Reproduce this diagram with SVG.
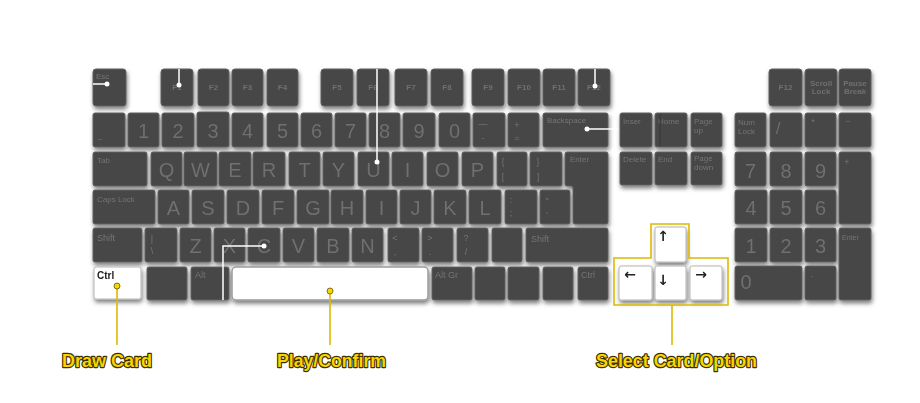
<svg xmlns="http://www.w3.org/2000/svg" width="920" height="403" viewBox="0 0 920 403">
<defs>
<filter id="sh" x="-5%" y="-10%" width="110%" height="130%">
<feDropShadow dx="1" dy="3" stdDeviation="2.2" flood-color="#000" flood-opacity="0.5"/>
</filter>
</defs>
<style>
.k{fill:#464646;stroke:#606060;stroke-width:1}
.w{fill:#ffffff;stroke:#b5b5b5;stroke-width:1}
.L{font-family:"Liberation Sans",Arial,sans-serif;font-size:20px;fill:#6f6f6f;text-anchor:middle}
.s{font-family:"Liberation Sans",Arial,sans-serif;font-size:8px;fill:#767676}
.sc{font-family:"Liberation Sans",Arial,sans-serif;font-size:9px;fill:#767676;text-anchor:middle}
.f{font-family:"Liberation Sans",Arial,sans-serif;font-size:8px;font-weight:bold;fill:#707070;text-anchor:middle}
.ar{font-family:"DejaVu Sans",sans-serif;font-size:14px;font-weight:bold;fill:#222;text-anchor:middle}
.lab{font-family:"Liberation Sans",Arial,sans-serif;font-size:19px;font-weight:bold;fill:#f7d500;stroke:#3b2f00;stroke-width:2.4;paint-order:stroke;stroke-linejoin:round}
.wl{stroke:#ffffff;stroke-width:1.5;fill:none}
.yl{stroke:#dcb900;stroke-width:1.6;fill:none}
</style>
<rect width="920" height="403" fill="#ffffff"/>
<g id="keyboard" filter="url(#sh)">
<!-- function row -->
<g id="k-esc"><rect class="k" x="93" y="69" width="33" height="37" rx="3"/><text class="s" x="96" y="79">Esc</text></g>
<g id="k-f1"><rect class="k" x="161" y="69" width="32" height="37" rx="3"/><text class="f" x="177" y="90">F1</text></g>
<g id="k-f2"><rect class="k" x="198" y="69" width="31" height="37" rx="3"/><text class="f" x="213.5" y="90">F2</text></g>
<g id="k-f3"><rect class="k" x="232" y="69" width="31" height="37" rx="3"/><text class="f" x="247.5" y="90">F3</text></g>
<g id="k-f4"><rect class="k" x="267" y="69" width="31" height="37" rx="3"/><text class="f" x="282.5" y="90">F4</text></g>
<g id="k-f5"><rect class="k" x="321" y="69" width="32" height="37" rx="3"/><text class="f" x="337" y="90">F5</text></g>
<g id="k-f6"><rect class="k" x="357" y="69" width="32" height="37" rx="3"/><text class="f" x="373" y="90">F6</text></g>
<g id="k-f7"><rect class="k" x="395" y="69" width="32" height="37" rx="3"/><text class="f" x="411" y="90">F7</text></g>
<g id="k-f8"><rect class="k" x="431" y="69" width="32" height="37" rx="3"/><text class="f" x="447" y="90">F8</text></g>
<g id="k-f9"><rect class="k" x="472" y="69" width="32" height="37" rx="3"/><text class="f" x="488" y="90">F9</text></g>
<g id="k-f10"><rect class="k" x="508" y="69" width="32" height="37" rx="3"/><text class="f" x="524" y="90">F10</text></g>
<g id="k-f11"><rect class="k" x="543" y="69" width="32" height="37" rx="3"/><text class="f" x="559" y="90">F11</text></g>
<g id="k-f12a"><rect class="k" x="578" y="69" width="32" height="37" rx="3"/><text class="f" x="594" y="90">F12</text></g>
<g id="k-f12b"><rect class="k" x="769" y="69" width="33" height="37" rx="3"/><text class="f" x="785.5" y="90">F12</text></g>
<g id="k-scroll"><rect class="k" x="805" y="69" width="32" height="37" rx="3"/><text class="f" x="821" y="86">Scroll</text><text class="f" x="821" y="94">Lock</text></g>
<g id="k-pause"><rect class="k" x="839" y="69" width="32" height="37" rx="3"/><text class="f" x="855" y="86">Pause</text><text class="f" x="855" y="94">Break</text></g>
<!-- number row -->
<g id="k-tilde"><rect class="k" x="93" y="113" width="32" height="34" rx="2"/><text class="s" x="98" y="142">~</text></g>
<g id="k-1"><rect class="k" x="128" y="113" width="31" height="34" rx="2"/><text class="L" x="143.5" y="138">1</text></g>
<g id="k-2"><rect class="k" x="162" y="113" width="32" height="34" rx="2"/><text class="L" x="178" y="138">2</text></g>
<g id="k-3"><rect class="k" x="197" y="112" width="32" height="35" rx="2"/><text class="L" x="213" y="138">3</text></g>
<g id="k-4"><rect class="k" x="232" y="113" width="31" height="34" rx="2"/><text class="L" x="247.5" y="138">4</text></g>
<g id="k-5"><rect class="k" x="267" y="113" width="31" height="34" rx="2"/><text class="L" x="282.5" y="138">5</text></g>
<g id="k-6"><rect class="k" x="301" y="113" width="31" height="34" rx="2"/><text class="L" x="316.5" y="138">6</text></g>
<g id="k-7"><rect class="k" x="335" y="113" width="31" height="34" rx="2"/><text class="L" x="350.5" y="138">7</text></g>
<g id="k-8"><rect class="k" x="369" y="113" width="31" height="34" rx="2"/><text class="L" x="384.5" y="138">8</text></g>
<g id="k-9"><rect class="k" x="403" y="113" width="32" height="34" rx="2"/><text class="L" x="419" y="138">9</text></g>
<g id="k-0"><rect class="k" x="439" y="113" width="31" height="34" rx="2"/><text class="L" x="454.5" y="138">0</text></g>
<g id="k-minus"><rect class="k" x="473" y="113" width="32" height="34" rx="2"/><text class="sc" x="483" y="127">—</text><text class="sc" x="483" y="141">-</text></g>
<g id="k-plus"><rect class="k" x="508" y="113" width="31" height="34" rx="2"/><text class="sc" x="517" y="128">+</text><text class="sc" x="517" y="141">=</text></g>
<g id="k-back"><rect class="k" x="543" y="113" width="65" height="34" rx="2"/><text class="s" x="547" y="123">Backspace</text></g>
<g id="k-ins"><rect class="k" x="620" y="113" width="32" height="34" rx="2"/><text class="s" x="623" y="124">Inser</text></g>
<g id="k-home"><rect class="k" x="655" y="113" width="32" height="34" rx="2"/><text class="s" x="658" y="124">Home</text></g>
<g id="k-pgup"><rect class="k" x="691" y="113" width="31" height="34" rx="2"/><text class="s" x="694" y="124">Page</text><text class="s" x="694" y="133">up</text></g>
<g id="k-num"><rect class="k" x="735" y="113" width="31" height="34" rx="2"/><text class="s" x="738" y="125">Num</text><text class="s" x="738" y="134">Lock</text></g>
<g id="k-div"><rect class="k" x="770" y="113" width="32" height="34" rx="2"/><text class="L" x="778" y="134" style="font-size:17px">/</text></g>
<g id="k-mul"><rect class="k" x="805" y="113" width="31" height="34" rx="2"/><text class="sc" x="813" y="125">*</text></g>
<g id="k-sub"><rect class="k" x="839" y="113" width="32" height="34" rx="2"/><text class="sc" x="848" y="124">−</text></g>
<!-- qwerty row -->
<g id="k-tab"><rect class="k" x="93" y="152" width="54" height="34" rx="2"/><text class="s" x="97" y="163">Tab</text></g>
<g id="k-q"><rect class="k" x="151" y="152" width="31" height="34" rx="2"/><text class="L" x="166.5" y="177">Q</text></g>
<g id="k-w"><rect class="k" x="184" y="152" width="33" height="34" rx="2"/><text class="L" x="200.5" y="177">W</text></g>
<g id="k-e"><rect class="k" x="219" y="152" width="32" height="34" rx="2"/><text class="L" x="235" y="177">E</text></g>
<g id="k-r"><rect class="k" x="253" y="152" width="32" height="34" rx="2"/><text class="L" x="269" y="177">R</text></g>
<g id="k-t"><rect class="k" x="289" y="152" width="31" height="34" rx="2"/><text class="L" x="304.5" y="177">T</text></g>
<g id="k-y"><rect class="k" x="323" y="152" width="31" height="34" rx="2"/><text class="L" x="338.5" y="177">Y</text></g>
<g id="k-u"><rect class="k" x="358" y="152" width="31" height="34" rx="2"/><text class="L" x="373.5" y="177">U</text></g>
<g id="k-i"><rect class="k" x="392" y="152" width="31" height="34" rx="2"/><text class="L" x="407.5" y="177">I</text></g>
<g id="k-o"><rect class="k" x="427" y="152" width="31" height="34" rx="2"/><text class="L" x="442.5" y="177">O</text></g>
<g id="k-p"><rect class="k" x="462" y="152" width="31" height="34" rx="2"/><text class="L" x="477.5" y="177">P</text></g>
<g id="k-lb"><rect class="k" x="497" y="152" width="30" height="34" rx="2"/><text class="sc" x="503" y="165">{</text><text class="sc" x="503" y="180">[</text></g>
<g id="k-rb"><rect class="k" x="530" y="152" width="32" height="34" rx="2"/><text class="sc" x="538" y="165">}</text><text class="sc" x="538" y="180">]</text></g>
<g id="k-enter"><path class="k" d="M567,152 H606 Q608,152 608,154 V222 Q608,224 606,224 H575 Q573,224 573,222 V188 Q573,186 571,186 H567 Q565,186 565,184 V154 Q565,152 567,152 Z"/><text class="s" x="570" y="162">Enter</text></g>
<g id="k-del"><rect class="k" x="620" y="152" width="32" height="33" rx="2"/><text class="s" x="623" y="162">Delete</text></g>
<g id="k-end"><rect class="k" x="655" y="152" width="32" height="33" rx="2"/><text class="s" x="658" y="162">End</text></g>
<g id="k-pgdn"><rect class="k" x="691" y="152" width="31" height="33" rx="2"/><text class="s" x="694" y="161">Page</text><text class="s" x="694" y="170">down</text></g>
<g id="k-n7"><rect class="k" x="735" y="152" width="31" height="34" rx="2"/><text class="L" x="750.5" y="178">7</text></g>
<g id="k-n8"><rect class="k" x="770" y="152" width="32" height="34" rx="2"/><text class="L" x="786" y="178">8</text></g>
<g id="k-n9"><rect class="k" x="805" y="152" width="31" height="34" rx="2"/><text class="L" x="820.5" y="178">9</text></g>
<g id="k-nplus"><rect class="k" x="839" y="152" width="32" height="72" rx="2"/><text class="sc" x="847" y="165">+</text></g>
<!-- asdf row -->
<g id="k-caps"><rect class="k" x="93" y="190" width="62" height="34" rx="2"/><text class="s" x="97" y="202">Caps Lock</text></g>
<g id="k-a"><rect class="k" x="158" y="190" width="31" height="34" rx="2"/><text class="L" x="173.5" y="215">A</text></g>
<g id="k-s"><rect class="k" x="192" y="190" width="32" height="34" rx="2"/><text class="L" x="208" y="215">S</text></g>
<g id="k-d"><rect class="k" x="227" y="190" width="32" height="34" rx="2"/><text class="L" x="243" y="215">D</text></g>
<g id="k-f"><rect class="k" x="262" y="190" width="32" height="34" rx="2"/><text class="L" x="278" y="215">F</text></g>
<g id="k-g"><rect class="k" x="297" y="190" width="32" height="34" rx="2"/><text class="L" x="313" y="215">G</text></g>
<g id="k-h"><rect class="k" x="331" y="190" width="32" height="34" rx="2"/><text class="L" x="347" y="215">H</text></g>
<g id="k-i2"><rect class="k" x="366" y="190" width="31" height="34" rx="2"/><text class="L" x="381.5" y="215">I</text></g>
<g id="k-j"><rect class="k" x="400" y="190" width="31" height="34" rx="2"/><text class="L" x="415.5" y="215">J</text></g>
<g id="k-k"><rect class="k" x="434" y="190" width="32" height="34" rx="2"/><text class="L" x="450" y="215">K</text></g>
<g id="k-l"><rect class="k" x="469" y="190" width="32" height="34" rx="2"/><text class="L" x="485" y="215">L</text></g>
<g id="k-semi"><rect class="k" x="505" y="190" width="32" height="34" rx="2"/><text class="sc" x="511" y="203">:</text><text class="sc" x="511" y="216">;</text></g>
<g id="k-quote"><rect class="k" x="540" y="190" width="30" height="34" rx="2"/><text class="sc" x="547" y="204">"</text><text class="sc" x="547" y="218">'</text></g>
<g id="k-n4"><rect class="k" x="735" y="190" width="32" height="34" rx="2"/><text class="L" x="751" y="215">4</text></g>
<g id="k-n5"><rect class="k" x="770" y="190" width="32" height="34" rx="2"/><text class="L" x="786" y="215">5</text></g>
<g id="k-n6"><rect class="k" x="805" y="190" width="31" height="34" rx="2"/><text class="L" x="820.5" y="215">6</text></g>
<!-- zxcv row -->
<g id="k-lshift"><rect class="k" x="93" y="228" width="49" height="34" rx="2"/><text class="s" x="97" y="241" style="font-size:9px">Shift</text></g>
<g id="k-bsl"><rect class="k" x="145" y="228" width="32" height="34" rx="2"/><text class="sc" x="152" y="242">|</text><text class="sc" x="152" y="254">\</text></g>
<g id="k-z"><rect class="k" x="180" y="228" width="31" height="34" rx="2"/><text class="L" x="195.5" y="253">Z</text></g>
<g id="k-x"><rect class="k" x="214" y="228" width="31" height="34" rx="2"/><text class="L" x="229.5" y="253">X</text></g>
<g id="k-c"><rect class="k" x="248" y="228" width="32" height="34" rx="2"/><text class="L" x="264" y="253">C</text></g>
<g id="k-v"><rect class="k" x="283" y="228" width="31" height="34" rx="2"/><text class="L" x="298.5" y="253">V</text></g>
<g id="k-b"><rect class="k" x="317" y="228" width="32" height="34" rx="2"/><text class="L" x="333" y="253">B</text></g>
<g id="k-n"><rect class="k" x="352" y="228" width="31" height="34" rx="2"/><text class="L" x="367.5" y="253">N</text></g>
<g id="k-lt"><rect class="k" x="388" y="228" width="31" height="34" rx="2"/><text class="sc" x="395" y="241">&lt;</text><text class="sc" x="395" y="255">,</text></g>
<g id="k-gt"><rect class="k" x="422" y="228" width="31" height="34" rx="2"/><text class="sc" x="430" y="241">&gt;</text><text class="sc" x="430" y="255">.</text></g>
<g id="k-q2"><rect class="k" x="457" y="228" width="31" height="34" rx="2"/><text class="sc" x="466" y="241">?</text><text class="sc" x="466" y="255">/</text></g>
<g id="k-blank1"><rect class="k" x="492" y="228" width="30" height="34" rx="2"/></g>
<g id="k-rshift"><rect class="k" x="526" y="228" width="82" height="34" rx="2"/><text class="s" x="531" y="242" style="font-size:9px">Shift</text></g>
<g id="k-up"><rect class="w" x="655" y="227" width="31" height="35" rx="2"/><text class="ar" x="663" y="241">↑</text></g>
<g id="k-n1"><rect class="k" x="735" y="228" width="32" height="34" rx="2"/><text class="L" x="751" y="253">1</text></g>
<g id="k-n2"><rect class="k" x="770" y="228" width="32" height="34" rx="2"/><text class="L" x="786" y="253">2</text></g>
<g id="k-n3"><rect class="k" x="805" y="228" width="31" height="34" rx="2"/><text class="L" x="820.5" y="253">3</text></g>
<g id="k-nenter"><rect class="k" x="839" y="228" width="32" height="72" rx="2"/><text class="s" x="842" y="240" style="font-size:7px">Enter</text></g>
<!-- bottom row -->
<g id="k-lctrl"><rect class="w" x="94" y="267" width="47" height="32" rx="2"/><text x="97" y="279" style="font-family:'Liberation Sans',Arial,sans-serif;font-size:10px;font-weight:bold;fill:#222">Ctrl</text></g>
<g id="k-win"><rect class="k" x="147" y="267" width="40" height="33" rx="2"/></g>
<g id="k-alt"><rect class="k" x="191" y="267" width="38" height="33" rx="2"/><text class="s" x="195" y="278" style="font-size:9px">Alt</text></g>
<g id="k-space"><rect class="w" x="232" y="267" width="196" height="33" rx="4" style="stroke:#9a9a9a;stroke-width:1.5"/></g>
<g id="k-altgr"><rect class="k" x="432" y="267" width="40" height="33" rx="2"/><text class="s" x="435" y="278" style="font-size:9px">Alt Gr</text></g>
<g id="k-blank2"><rect class="k" x="475" y="267" width="30" height="33" rx="2"/></g>
<g id="k-blank3"><rect class="k" x="508" y="267" width="31" height="33" rx="2"/></g>
<g id="k-blank4"><rect class="k" x="543" y="267" width="30" height="33" rx="2"/></g>
<g id="k-rctrl"><rect class="k" x="578" y="267" width="30" height="33" rx="2"/><text class="s" x="581" y="278" style="font-size:9px">Ctrl</text></g>
<g id="k-left"><rect class="w" x="619" y="266" width="33" height="34" rx="2"/><text class="ar" x="630" y="279">←</text></g>
<g id="k-down"><rect class="w" x="655" y="266" width="31" height="34" rx="2"/><text class="ar" x="663" y="285">↓</text></g>
<g id="k-right"><rect class="w" x="690" y="266" width="32" height="34" rx="2"/><text class="ar" x="701" y="279">→</text></g>
<g id="k-n0"><rect class="k" x="735" y="266" width="67" height="34" rx="2"/><text class="L" x="746" y="289">0</text></g>
<g id="k-ndot"><rect class="k" x="805" y="266" width="31" height="34" rx="2"/><text class="sc" x="812" y="277">.</text></g>
</g>
<g id="connectors">
<line x1="660" y1="114" x2="660" y2="146" stroke="#333" stroke-width="2" opacity="0.4"/>
<path class="wl" d="M93,84 H107"/><circle cx="107" cy="84" r="2.5" fill="#fff"/>
<path class="wl" d="M179,69 V85"/><circle cx="179" cy="85" r="2.5" fill="#fff"/>
<path class="wl" d="M377,69 V162"/><circle cx="377" cy="162" r="2.5" fill="#fff"/>
<path class="wl" d="M595,69 V86"/><circle cx="595" cy="86" r="2.5" fill="#fff"/>
<path class="wl" d="M587,129 H618"/><circle cx="587" cy="129" r="2.5" fill="#fff"/>
<path class="wl" d="M264,246 H223 V300"/><circle cx="264" cy="246" r="2.5" fill="#fff"/>
<path id="arrow-box" class="yl" d="M651,224 H689 V258 H728 V305 H614 V258 H651 Z"/>
<path class="yl" d="M117,286 V345"/><circle cx="117" cy="286" r="3" fill="#f7d500" stroke="#6b5500" stroke-width="0.8"/>
<path class="yl" d="M330,291 V345"/><circle cx="330" cy="291" r="3" fill="#f7d500" stroke="#6b5500" stroke-width="0.8"/>
<path class="yl" d="M672,305 V345"/>
</g>
<g id="labels">
<text class="lab" x="62" y="367" textLength="90" lengthAdjust="spacingAndGlyphs">Draw Card</text>
<text class="lab" x="277" y="367" textLength="109" lengthAdjust="spacingAndGlyphs">Play/Confirm</text>
<text class="lab" x="596" y="367" textLength="161" lengthAdjust="spacingAndGlyphs">Select Card/Option</text>
</g>
</svg>
